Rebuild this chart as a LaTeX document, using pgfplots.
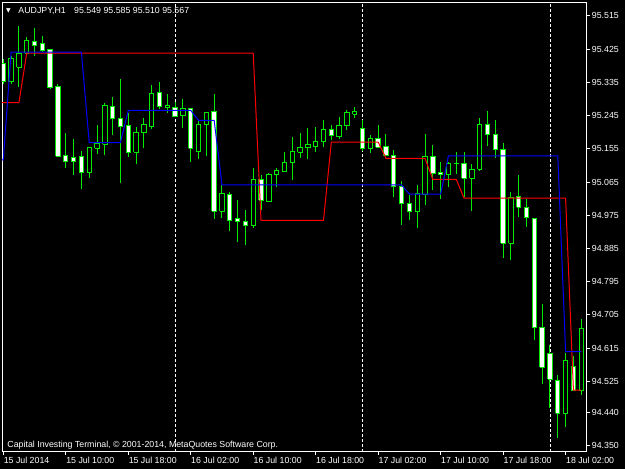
\documentclass[border=0pt]{standalone}
\usepackage{pgfplots}
\usepackage{pgfplotstable}
\pgfplotsset{compat=1.18}
\usepackage{fontspec}
\setmainfont{Liberation Sans}
\newfontfamily\dejavu{DejaVu Sans}
\definecolor{cgreen}{RGB}{0,235,0}
\definecolor{ired}{RGB}{255,0,0}
\definecolor{iblue}{RGB}{0,0,255}
\newcommand\mtfont{\fontsize{8.8}{10}\selectfont}

% AUDJPY H1 bars: index, open, high, low, close
\pgfplotstableread{
i o h l c
1 95.385 95.398 95.330 95.336
2 95.336 95.407 95.330 95.401
3 95.376 95.488 95.323 95.414
4 95.414 95.459 95.412 95.448
5 95.447 95.482 95.407 95.435
6 95.439 95.461 95.418 95.421
7 95.423 95.426 95.317 95.321
8 95.325 95.331 95.134 95.135
9 95.137 95.197 95.104 95.120
10 95.130 95.182 95.084 95.120
11 95.133 95.149 95.047 95.090
12 95.090 95.160 95.077 95.159
13 95.156 95.220 95.140 95.170
14 95.167 95.278 95.137 95.271
15 95.269 95.296 95.193 95.237
16 95.238 95.344 95.062 95.215
17 95.217 95.253 95.133 95.146
18 95.146 95.213 95.114 95.200
19 95.199 95.239 95.156 95.220
20 95.215 95.328 95.208 95.306
21 95.308 95.336 95.262 95.269
22 95.268 95.303 95.253 95.273
23 95.267 95.283 95.240 95.242
24 95.245 95.289 95.211 95.265
25 95.265 95.266 95.120 95.156
26 95.147 95.230 95.127 95.220
27 95.222 95.255 95.136 95.254
28 95.256 95.303 94.964 94.985
29 94.985 95.057 94.967 95.035
30 95.032 95.039 94.933 94.960
31 94.965 95.016 94.901 94.958
32 94.959 94.989 94.894 94.948
33 94.948 95.102 94.940 95.072
34 95.072 95.084 94.989 95.016
35 95.012 95.089 95.012 95.085
36 95.085 95.102 95.052 95.097
37 95.093 95.146 95.093 95.119
38 95.119 95.188 95.071 95.147
39 95.146 95.198 95.129 95.158
40 95.158 95.212 95.127 95.167
41 95.161 95.214 95.147 95.174
42 95.174 95.233 95.159 95.206
43 95.206 95.220 95.179 95.191
44 95.188 95.240 95.182 95.217
45 95.218 95.260 95.206 95.254
46 95.249 95.269 95.238 95.255
47 95.211 95.233 95.149 95.155
48 95.156 95.191 95.143 95.184
49 95.182 95.220 95.159 95.159
50 95.161 95.194 95.136 95.136
51 95.136 95.152 95.023 95.052
52 95.052 95.068 94.949 95.007
53 95.007 95.030 94.962 94.985
54 94.985 95.057 94.941 95.035
55 95.030 95.195 95.003 95.133
56 95.134 95.165 95.043 95.089
57 95.092 95.120 95.018 95.086
58 95.086 95.120 95.052 95.114
59 95.115 95.146 95.087 95.116
60 95.116 95.146 95.024 95.075
61 95.075 95.114 94.987 95.100
62 95.100 95.238 95.096 95.222
63 95.222 95.258 95.163 95.194
64 95.193 95.233 95.131 95.152
65 95.152 95.170 94.860 94.899
66 94.899 95.037 94.854 95.024
67 95.025 95.084 94.971 94.997
68 94.997 95.019 94.944 94.970
69 94.967 94.968 94.637 94.671
70 94.670 94.735 94.518 94.563
71 94.601 94.623 94.452 94.531
72 94.527 94.542 94.371 94.438
73 94.438 94.601 94.400 94.581
74 94.566 94.593 94.501 94.501
75 94.501 94.693 94.488 94.669
}\candles

\begin{document}
\begin{tikzpicture}
\fill[black] (0,0) rectangle (625pt,469pt);
\useasboundingbox (0,0) rectangle (625pt,469pt);
\begin{axis}[
    at={(2pt,17.3pt)}, anchor=south west,
    scale only axis, width=584.7pt, height=449.4pt,
    xmin=0.8336, xmax=75.70, ymin=94.334, ymax=95.552,
    axis line style={white, line width=0.9pt},
    xtick={1,9,...,73},
    xticklabels={15 Jul 2014, 15 Jul 10:00, 15 Jul 18:00, 16 Jul 02:00, 16 Jul 10:00,
        16 Jul 18:00, 17 Jul 02:00, 17 Jul 10:00, 17 Jul 18:00, 18 Jul 02:00},
    ytick={95.515,95.425,95.335,95.245,95.155,95.065,94.975,94.885,94.795,94.705,94.615,94.525,94.440,94.350},
    yticklabel={\pgfmathprintnumber[fixed,fixed zerofill,precision=3,assume math mode=true]{\tick}},
    xtick pos=bottom, ytick pos=right,
    tick align=outside, major tick length=3pt,
    tick style={white, line width=0.9pt},
    xticklabel style={anchor=north west, inner sep=0pt, xshift=0.3pt, yshift=-2.5pt, font=\mtfont, text=white},
    yticklabel style={anchor=west, inner sep=0pt, xshift=2pt, font=\mtfont, text=white},
]
% period separators
\addplot[white, line width=0.9pt, dash pattern=on 3pt off 2pt] coordinates {(23,94.334) (23,95.552)};
\addplot[white, line width=0.9pt, dash pattern=on 3pt off 2pt] coordinates {(47,94.334) (47,95.552)};
\addplot[white, line width=0.9pt, dash pattern=on 3pt off 2pt] coordinates {(71,94.334) (71,95.552)};

% candles: wick, then body on top
\pgfplotsforeachungrouped \r in {0,...,74}{%
    \pgfplotstablegetelem{\r}{o}\of\candles \let\vo\pgfplotsretval
    \pgfplotstablegetelem{\r}{h}\of\candles \let\vh\pgfplotsretval
    \pgfplotstablegetelem{\r}{l}\of\candles \let\vl\pgfplotsretval
    \pgfplotstablegetelem{\r}{c}\of\candles \let\vc\pgfplotsretval
    \ifdim\vc pt<\vo pt
        \def\bodyfill{white}\let\vlo\vc\let\vhi\vo
    \else
        \def\bodyfill{black}\let\vlo\vo\let\vhi\vc
    \fi
    \pgfmathsetmacro\pos{\r+1}%
    \pgfmathsetmacro\xa{\r+1-0.28}%
    \pgfmathsetmacro\xb{\r+1+0.28}%
    \edef\doplot{%
        \noexpand\addplot[draw=cgreen, line width=1pt] coordinates {(\pos,\vl) (\pos,\vh)};
        \noexpand\addplot[draw=cgreen, fill=\bodyfill, line width=1pt] coordinates
            {(\xa,\vlo) (\xb,\vlo) (\xb,\vhi) (\xa,\vhi) (\xa,\vlo)};
    }%
    \doplot
}

% indicator lines
\addplot[ired, line width=1pt] coordinates {
    (0,95.280) (3,95.280) (4,95.414) (33,95.414) (34,94.961) (42,94.961)
    (43,95.173) (49,95.173) (50,95.129) (55,95.129) (56,95.072) (59,95.072)
    (60,95.021) (73,95.021) (74,94.501) (75,94.501)};
\addplot[iblue, line width=1pt] coordinates {
    (0,95.125) (1,95.125) (2,95.417) (11,95.417) (12,95.172) (16,95.172)
    (17,95.259) (25,95.259) (26,95.232) (28,95.232) (29,95.057) (52,95.057)
    (53,95.032) (57,95.032) (58,95.136) (72,95.136) (73,94.605) (75,94.605)};
\end{axis}
\node[anchor=base west, inner sep=0pt, text=white, font=\dejavu\fontsize{6}{6}\selectfont] at (6pt,456.5pt) {▼};
\node[anchor=base west, inner sep=0pt, text=white, font=\mtfont] at (18.3pt,455pt) {AUDJPY,H1};
\node[anchor=base west, inner sep=0pt, text=white, font=\mtfont] at (74pt,455pt) {95.549 95.585 95.510 95.567};
\node[anchor=base west, inner sep=0pt, text=white, font=\mtfont] at (7.3pt,21.7pt) {Capital Investing Terminal, © 2001-2014, MetaQuotes Software Corp.};
\end{tikzpicture}
\end{document}
